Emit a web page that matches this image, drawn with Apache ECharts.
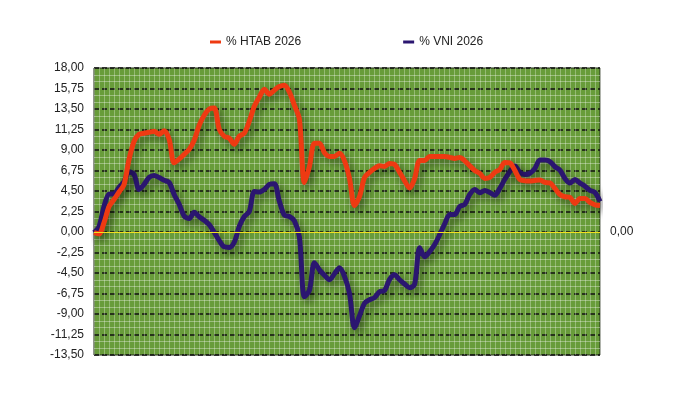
<!DOCTYPE html>
<html>
<head>
<meta charset="utf-8">
<script src="https://cdn.jsdelivr.net/npm/echarts@6/dist/echarts.min.js"></script>
<style>
  html, body { margin: 0; padding: 0; background: #fff; }
  #chart { width: 690px; height: 406px; }
</style>
</head>
<body>
<div id="chart"></div>
<script>
// series values (percent change since start of year)
const htab = [
  -0.07, -0.2, 1.04, 2.80, 3.57, 4.39, 5.22, 7.98, 9.96, 10.73,
  10.84, 10.95, 11.06, 10.73, 11.11, 10.18, 7.6, 8.0, 8.52, 9.07,
  10.07, 11.72, 12.82, 13.5, 13.6, 11.28, 10.51, 10.29, 9.63, 10.51,
  10.84, 12.16, 13.81, 14.80, 15.68, 15.13, 15.57, 15.96, 16.12, 15.35,
  13.92, 12.38, 5.44, 7.2, 9.74, 9.74, 8.69, 8.30, 8.30, 8.63,
  7.81, 5.88, 2.9, 3.90, 5.99, 6.54, 6.98, 7.26, 7.2, 7.53,
  7.42, 6.54, 5.61, 4.83, 5.88, 7.86, 7.86, 8.30, 8.30, 8.30,
  8.30, 8.19, 8.08, 8.19, 7.81, 7.26, 6.76, 6.43, 5.88, 5.99,
  6.54, 6.87, 7.64, 7.59, 6.76, 5.77, 5.61, 5.59, 5.66, 5.72,
  5.44, 5.39, 4.78, 4.12, 3.87, 3.79, 3.13, 3.68, 3.68, 3.24,
  2.98, 2.91
];
const vni = [
  -0.07, 0.59, 2.80, 4.16, 4.19, 4.89, 5.52, 6.6, 6.32, 4.67,
  5.22, 6.0, 6.21, 5.97, 5.67, 5.44, 4.12, 3.04, 1.76, 1.48,
  2.16, 1.67, 1.28, 0.81, -0.04, -0.95, -1.63, -1.69, -1.11, 0.62,
  1.70, 2.25, 4.45, 4.38, 4.67, 5.22, 5.3, 3.37, 1.85, 1.70,
  1.22, -0.55, -7.11, -6.4, -3.37, -4.15, -4.74, -5.24, -4.58, -3.92,
  -4.87, -6.76, -10.5, -9.2, -7.82, -7.44, -7.20, -6.56, -6.41, -5.20,
  -4.69, -5.24, -5.71, -6.12, -5.73, -1.72, -2.71, -2.16, -1.38, -0.29,
  0.89, 1.92, 1.92, 2.80, 3.02, 4.12, 4.67, 4.30, 4.56, 4.34,
  4.03, 4.78, 5.78, 6.65, 7.25, 6.54, 6.32, 6.45, 6.98, 7.89,
  7.89, 7.73, 7.16, 6.78, 5.88, 5.37, 5.77, 5.37, 5.03, 4.57,
  4.34, 3.35
];
const days = htab.map((v, i) => i + 1);
const seriesNames = ['% HTAB 2026', '% VNI 2026'];
const yMin = -13.5, yMax = 18, yStep = 2.25;

const chart = echarts.init(document.getElementById('chart'));

function fmt(v) {
  return v.toFixed(2).replace('.', ',');
}

const lineShadow = {
  shadowColor: 'rgba(0,0,0,0.5)',
  shadowBlur: 9,
  shadowOffsetX: 3,
  shadowOffsetY: 4
};

chart.setOption({
  animation: false,
  textStyle: { fontFamily: 'Liberation Sans, Arial, sans-serif' },
  legend: {
    top: 31,
    left: 205,
    itemGap: 102,
    icon: 'rect',
    itemWidth: 11,
    itemHeight: 3,
    textStyle: { fontSize: 12, color: '#222' },
    data: seriesNames
  },
  grid: {
    left: 94,
    right: 90,
    top: 68,
    bottom: 51,
    show: true,
    backgroundColor: '#689c3a',
    borderColor: '#1e2a14',
    borderWidth: 1
  },
  xAxis: {
    type: 'category',
    data: days,
    boundaryGap: false,
    axisLine: { show: false },
    axisTick: { show: false },
    axisLabel: { show: false },
    splitLine: {
      show: true,
      interval: 0,
      lineStyle: { color: 'rgba(255,255,255,0.3)', width: 1 }
    }
  },
  yAxis: {
    type: 'value',
    min: yMin,
    max: yMax,
    interval: yStep,
    axisLine: { show: false },
    axisTick: { show: false },
    axisLabel: {
      color: '#222',
      fontSize: 12,
      margin: 10,
      padding: [4, 0, 0, 0],
      formatter: fmt
    },
    splitLine: {
      lineStyle: { color: '#111', width: 1.5, type: [5, 3] }
    },
    minorTick: { show: false, splitNumber: 3 },
    minorSplitLine: {
      show: true,
      lineStyle: { color: 'rgba(255,255,255,0.35)', width: 1 }
    }
  },
  series: [
    {
      name: seriesNames[0],
      type: 'line',
      data: htab,
      smooth: 0.3,
      symbol: 'none',
      color: '#ee3a12',
      lineStyle: Object.assign({ width: 5, color: '#ee3a12' }, lineShadow),
      z: 3,
      markLine: {
        silent: true,
        symbol: 'none',
        lineStyle: { color: '#f2e01e', width: 1, type: 'solid', shadowBlur: 0, shadowOffsetX: 0, shadowOffsetY: 0 },
        label: {
          position: 'end',
          distance: 10,
          color: '#222',
          fontSize: 12,
          padding: [4, 0, 0, 0],
          formatter: () => fmt(0)
        },
        data: [{ yAxis: 0 }]
      }
    },
    {
      name: seriesNames[1],
      type: 'line',
      data: vni,
      smooth: 0.3,
      symbol: 'none',
      color: '#2b1670',
      lineStyle: Object.assign({ width: 5, color: '#2b1670' }, lineShadow),
      z: 2
    }
  ]
});
</script>
</body>
</html>
